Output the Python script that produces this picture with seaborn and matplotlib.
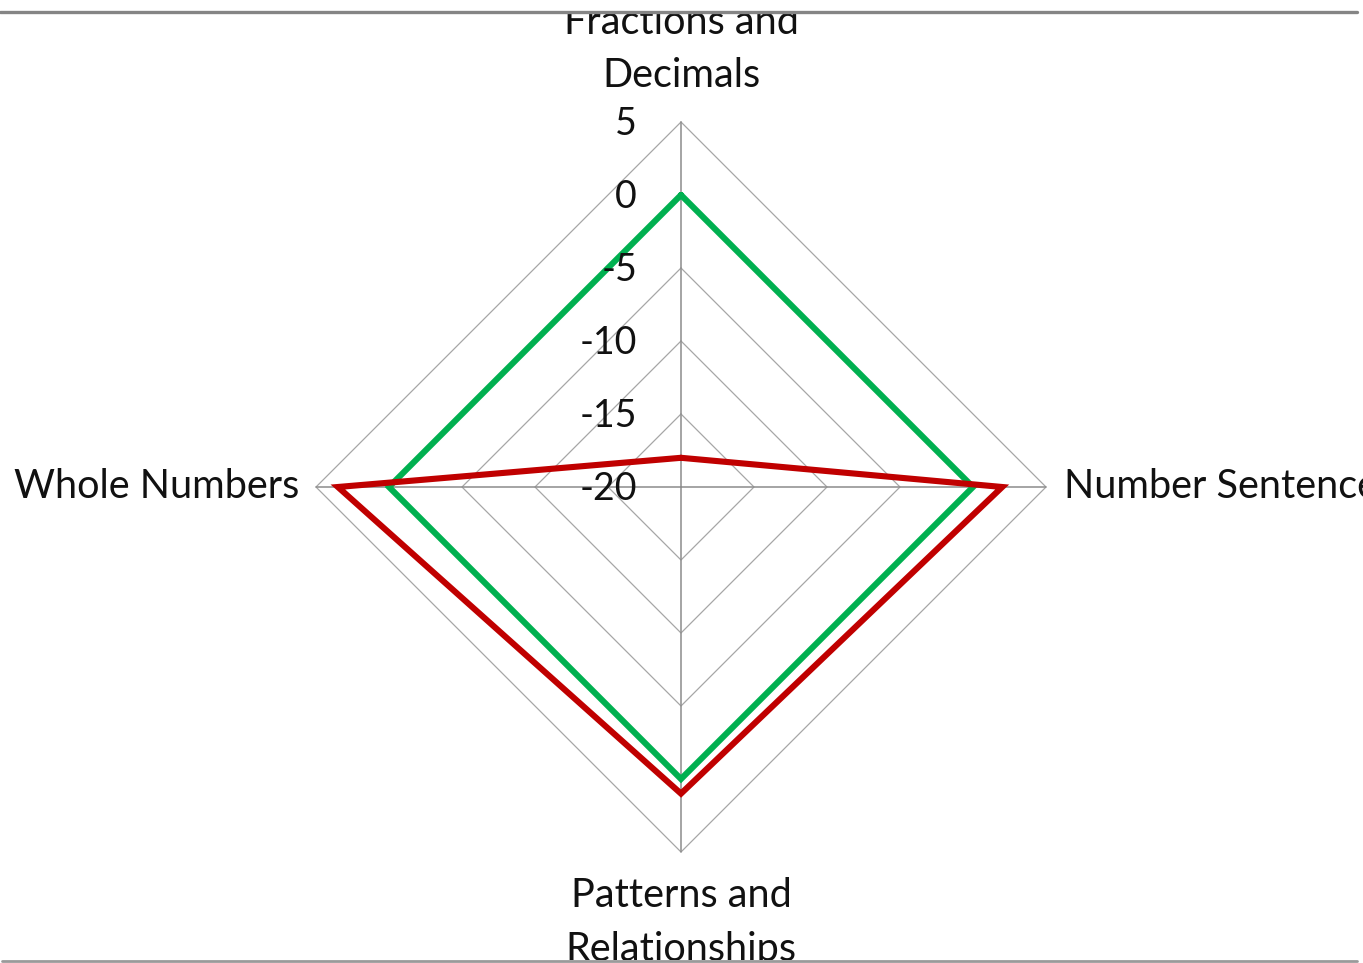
import numpy as np
import pandas as pd
import matplotlib
matplotlib.use("Agg")
import matplotlib.pyplot as plt
import seaborn as sns
from matplotlib.lines import Line2D
from matplotlib.patches import Rectangle

# ---- data ----
categories = ["Fractions and\nDecimals", "Number Sentences",
              "Patterns and\nRelationships", "Whole Numbers"]
green_values = [0, 0, 0, 0]
red_values = [-18, 2, 1, 3.5]
tick_values = [-20, -15, -10, -5, 0, 5]
series_names = ["Series 1", "Series 2"]
series_colors = ["#00B050", "#C00000"]

sns.set_theme(style="white")
plt.rcParams['font.family'] = ['Lato', 'DejaVu Sans']

W, H = 1363, 963
fig = plt.figure(figsize=(W / 100, H / 100), dpi=100)
ax = fig.add_axes([0, 0, 1, 1])
ax.set_xlim(0, W)
ax.set_ylim(H, 0)
ax.axis("off")

cx, cy, R = 681, 487, 365
vmin, vmax = tick_values[0], tick_values[-1]
n = len(categories)
theta = np.pi / 2 - np.arange(n) * 2 * np.pi / n


def to_xy(vals):
    r = (np.asarray(vals, float) - vmin) / (vmax - vmin) * R
    x = cx + r * np.cos(theta)
    y = cy - r * np.sin(theta)
    return np.append(x, x[0]), np.append(y, y[0])


# grid rings
for t in tick_values[1:]:
    gx, gy = to_xy([t] * n)
    ax.plot(gx, gy, color="#A6A6A6", lw=0.9, zorder=1)
# spokes
ox, oy = to_xy([vmax] * n)
for i in range(n):
    ax.plot([cx, ox[i]], [cy, oy[i]], color="#8C8C8C", lw=1.1, zorder=1)

# series
for name, vals, col in zip(series_names, [green_values, red_values], series_colors):
    x, y = to_xy(vals)
    df = pd.DataFrame({"x": x, "y": y, "order": np.arange(len(x))})
    sns.lineplot(data=df, x="x", y="y", sort=False, estimator=None, color=col,
                 lw=4.4, ax=ax, zorder=3, solid_joinstyle="miter")

# tick labels
for t in tick_values:
    r = (t - vmin) / (vmax - vmin) * R
    ax.text(cx - 44, cy - r + 2, f"{t}", ha="right", va="center", fontsize=27,
            color="#111111", zorder=4)

# visible region (screenshot crop between the two grey rules)
clip = Rectangle((0, 13), W, 947, transform=ax.transData, fill=False)

# category labels
fs = 28.5
t0 = ax.text(cx, 94, categories[0], ha="center", va="bottom", fontsize=fs,
             color="#111111", linespacing=1.55, clip_on=True)
t0.set_clip_path(clip)
ax.text(ox[1] + 18, cy, categories[1], ha="left", va="center", fontsize=fs,
        color="#111111")
t2 = ax.text(cx, 877, categories[2], ha="center", va="top", fontsize=fs,
             color="#111111", linespacing=1.55, clip_on=True)
t2.set_clip_path(clip)
ax.text(ox[3] - 17, cy, categories[3], ha="right", va="center", fontsize=fs,
        color="#111111")

# frame lines at top and bottom
fig.lines.append(Line2D([0, 1357 / W], [1 - 12 / H, 1 - 12 / H], transform=fig.transFigure,
                        color="#858585", lw=2.4, zorder=10))
fig.lines.append(Line2D([2 / W, 1357 / W], [1 - 961 / H, 1 - 961 / H], transform=fig.transFigure,
                        color="#9A9A9A", lw=2.0, zorder=10))

fig.savefig("out.png", dpi=100, facecolor="white")
